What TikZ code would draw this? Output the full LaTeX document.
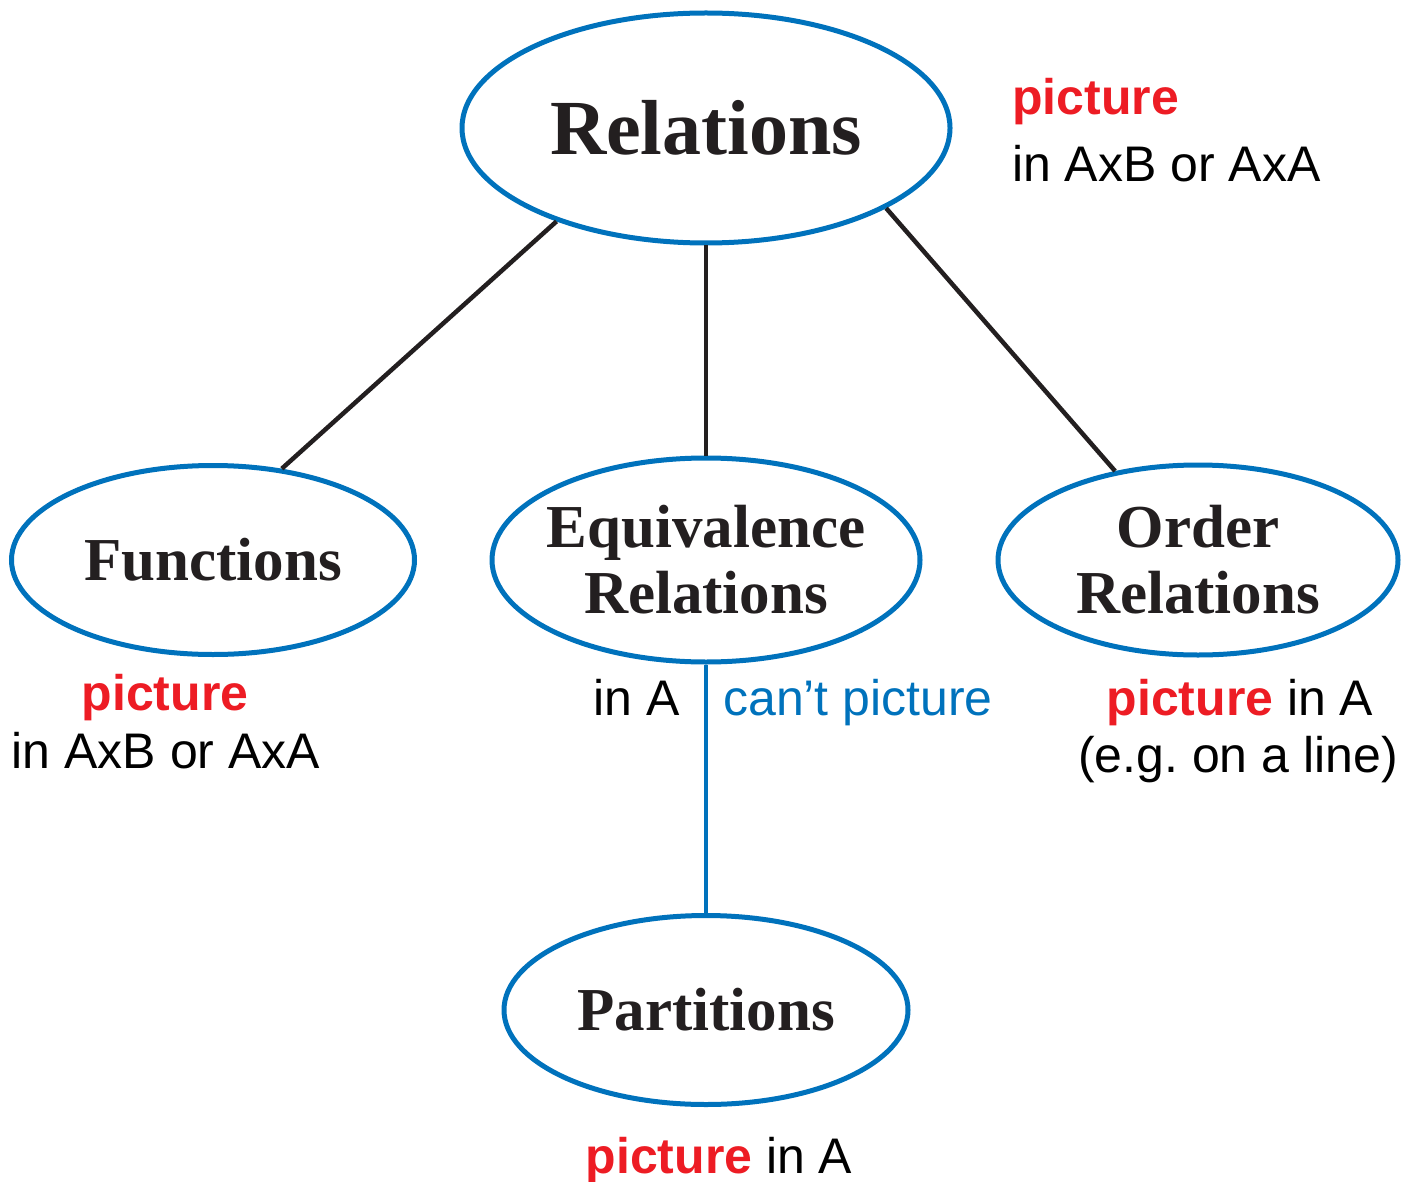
\documentclass[tikz,border=0pt]{standalone}
\usepackage{fontspec}
\setmainfont{Liberation Serif}
\setsansfont{Liberation Sans}
\usetikzlibrary{positioning}
\usetikzlibrary{shapes.geometric}
\definecolor{ovalblue}{HTML}{0072BC}
\definecolor{notered}{HTML}{ED1C24}
\definecolor{inkblack}{HTML}{231F20}

\begin{document}
\begin{tikzpicture}[x=1pt, y=-1pt]
  \tikzstyle{topic} = [ellipse, draw=ovalblue, line width=5pt, text=inkblack, align=center, inner sep=0pt, font=\fontsize{61}{66}\selectfont\bfseries]
  \tikzstyle{note} = [inner sep=0pt, font=\fontsize{50}{60}\selectfont\sffamily]
  \tikzstyle{redword} = [note, text=notered, font=\fontsize{50}{60}\selectfont\sffamily\bfseries]
  \tikzstyle{link} = [draw=inkblack, line width=4.5pt]

  \useasboundingbox (0,0) rectangle (1423,1182);

  \node (rel) [topic, minimum width=488pt, minimum height=230pt, font=\fontsize{78}{80}\selectfont\bfseries] at (706,128) {Relations};
  \node (equiv) [topic, minimum width=428pt, minimum height=204pt, inner xsep=-10pt, below of=rel, node distance=432pt] {Equivalence\\Relations};
  \node (func) [topic, minimum width=403pt, minimum height=189pt, left of=equiv, node distance=493pt] {Functions};
  \node (order) [topic, minimum width=400pt, minimum height=190pt, right of=equiv, node distance=492pt] {Order\\Relations};
  \node (part) [topic, minimum width=404pt, minimum height=189pt, below of=equiv, node distance=450pt] {Partitions};

  % notes beside the ovals
  \node (relpic) [redword, anchor=base west] at (1012,115) {picture};
  \node (relin) [note, anchor=base west] at (1012,182) {in AxB or AxA};
  \node (funcpic) [redword, anchor=base] at (165,710) {picture};
  \node (funcin) [note, anchor=base] at (166,768) {in AxB or AxA};
  \node (equivin) [note, anchor=base east] at (680,715) {in A};
  \node (equivcant) [note, anchor=base west, text=ovalblue] at (723,715) {can’t picture};
  \node (orderpic) [note, anchor=base] at (1240,715) {{\bfseries\color{notered}picture} in A};
  \node (ordereg) [note, anchor=base] at (1238,772) {(e.g.\ on a line)};
  \node (partpic) [note, anchor=base] at (719,1173) {{\bfseries\color{notered}picture} in A};

  \draw [link] (rel.212) -- (func.53);
  \draw [link] (rel.south) -- (equiv.north);
  \draw [link] (rel.336) -- (order.133);
  \draw [link, draw=ovalblue] (equiv.south) -- (part.north);
\end{tikzpicture}
\end{document}
